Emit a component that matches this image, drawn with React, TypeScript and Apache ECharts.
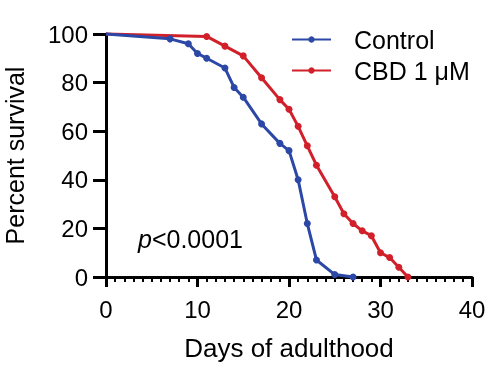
import React, { useEffect, useRef } from "react";
import * as echarts from "echarts";

const controlDays = [0, 7, 9, 10, 11, 13, 14, 15, 17, 19, 20, 21, 22, 23, 25, 27];
const controlSurvival = [100, 98, 96, 92, 90, 86, 78, 74, 63, 55, 52, 40, 22, 7, 1, 0];
const cbdDays = [0, 11, 13, 15, 17, 19, 20, 21, 22, 23, 25, 26, 27, 28, 29, 30, 31, 32, 33];
const cbdSurvival = [100, 99, 95, 91, 82, 73, 69, 62, 54, 46, 33, 26, 22, 19, 17, 10, 8, 4, 0];
const seriesNames = ["Control", "CBD 1 \u03bcM"];
const xTicks = [0, 10, 20, 30, 40];
const yTicks = [0, 20, 40, 60, 80, 100];

const BLUE = "#2c48a6";
const RED = "#d1202a";
const FONT = "'Liberation Sans', Arial, Helvetica, sans-serif";

function toPoints(days: number[], vals: number[]) {
  return days.map((d, i) =>
    i === 0 ? { value: [d, vals[i]], symbol: "none" } : { value: [d, vals[i]] }
  );
}

export default function App() {
  const ref = useRef<HTMLDivElement>(null);
  useEffect(() => {
    if (!ref.current) return;
    const chart = echarts.init(ref.current, undefined, { renderer: "svg" });
    const axisLine = { show: true, lineStyle: { color: "#000", width: 3 } };
    chart.setOption({
      animation: false,
      textStyle: { fontFamily: FONT },
      grid: {
        left: 106,
        right: 18,
        top: 34,
        bottom: 102,
        containLabel: false,
        outerBoundsMode: "none",
      },
      legend: {
        orient: "vertical",
        left: 286,
        top: 22,
        itemWidth: 39,
        itemHeight: 8,
        itemGap: 6,
        data: [seriesNames[0], seriesNames[1]],
        textStyle: { fontSize: 25, color: "#000", fontFamily: FONT, padding: [0, 0, 0, 18] },
      },
      xAxis: {
        type: "value",
        min: xTicks[0],
        max: xTicks[xTicks.length - 1],
        interval: 10,
        name: "Days of adulthood",
        nameLocation: "middle",
        nameGap: 58,
        nameTextStyle: { fontSize: 26, color: "#000", fontFamily: FONT },
        axisLine: { ...axisLine, onZero: false },
        axisTick: { show: true, length: 10, inside: false, lineStyle: { color: "#000", width: 3 } },
        minorTick: { show: true, splitNumber: 10, length: 5, lineStyle: { color: "#000", width: 2 } },
        axisLabel: { fontSize: 24, color: "#000", margin: 20, fontFamily: FONT },
        splitLine: { show: false },
      },
      yAxis: {
        type: "value",
        min: yTicks[0],
        max: yTicks[yTicks.length - 1],
        interval: 20,
        name: "Percent survival",
        nameLocation: "middle",
        nameGap: 79,
        nameTextStyle: { fontSize: 25, color: "#000", fontFamily: FONT },
        axisLine: { ...axisLine, onZero: false },
        axisTick: { show: true, length: 13, lineStyle: { color: "#000", width: 3 } },
        axisLabel: { fontSize: 24, color: "#000", margin: 18, fontFamily: FONT },
        splitLine: { show: false },
      },
      graphic: [
        {
          type: "text",
          left: 138,
          top: 226,
          style: {
            text: "{i|p}{n|<0.0001}",
            rich: {
              i: { fontSize: 25, fontStyle: "italic", fill: "#000", fontFamily: FONT },
              n: { fontSize: 25, fill: "#000", fontFamily: FONT },
            },
          },
          z: 10,
        },
      ],
      series: [
        {
          name: seriesNames[1],
          type: "line",
          data: toPoints(cbdDays, cbdSurvival),
          color: RED,
          symbol: "circle",
          symbolSize: 7,
          showSymbol: true,
          lineStyle: { width: 3, color: RED },
          itemStyle: { color: RED },
          clip: false,
          z: 5,
        },
        {
          name: seriesNames[0],
          type: "line",
          data: toPoints(controlDays, controlSurvival),
          color: BLUE,
          symbol: "circle",
          symbolSize: 7,
          showSymbol: true,
          lineStyle: { width: 3, color: BLUE },
          itemStyle: { color: BLUE },
          clip: false,
          z: 6,
        },
      ],
    });
    return () => chart.dispose();
  }, []);
  return (
    <div
      ref={ref}
      style={{ position: "fixed", left: 0, top: 0, width: 490, height: 379 }}
    />
  );
}
